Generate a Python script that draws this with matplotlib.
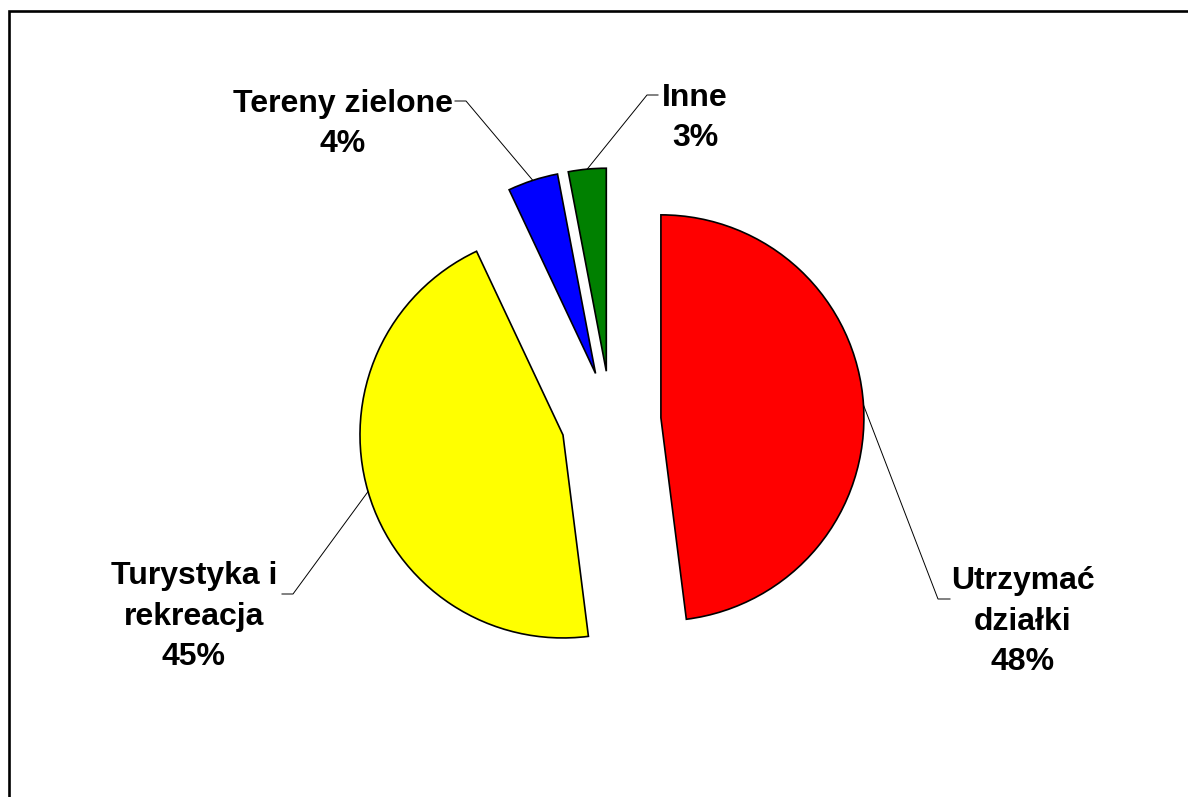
import numpy as np
import matplotlib
matplotlib.use("Agg")
import matplotlib.pyplot as plt
from matplotlib.lines import Line2D

# ---- data ----
categories = ["Utrzymać\ndziałki", "Turystyka i\nrekreacja", "Tereny zielone", "Inne"]
values = [48, 45, 4, 3]
colors = ["#FF0000", "#FFFF00", "#0000FF", "#008000"]

# ---- layout (pixel coordinates, y measured from top) ----
W, H = 1188, 797
center_px = (611, 421)
radius_px = 203
explode_px = 50
label_pos = [(1023, 670), (194, 665), (343, 152), (695, 146)]   # last-line baseline
elbow_pos = [(938, 599), (293, 594), (466, 101), (647, 95)]
end_pos = [(950, 599), (282, 594), (455, 101), (658, 95)]

plt.rcParams['font.family'] = ['Liberation Sans', 'DejaVu Sans']

fig = plt.figure(figsize=(W / 100, H / 100), dpi=100)
ax = fig.add_axes([0, 0, 1, 1])

def Y(y):
    return H - y

wedges, _ = ax.pie(values, colors=colors, startangle=90, counterclock=False,
                   explode=[explode_px] * len(values),
                   center=(center_px[0], Y(center_px[1])), radius=radius_px,
                   wedgeprops=dict(edgecolor='black', linewidth=1.2),
                   frame=True)
ax.set_xlim(0, W)
ax.set_ylim(0, H)
ax.set_aspect('equal')
ax.axis('off')

total = sum(values)
for i, w in enumerate(wedges):
    tmid = np.deg2rad((w.theta1 + w.theta2) / 2)
    cx, cy = w.center
    px = cx + w.r * np.cos(tmid)
    py = cy + w.r * np.sin(tmid)
    ex, ey = elbow_pos[i]
    fx, fy = end_pos[i]
    ax.add_line(Line2D([px, ex, fx], [py, Y(ey), Y(fy)], color='black', lw=0.7))
    lx, ly = label_pos[i]
    ax.text(lx, Y(ly), f"{categories[i]}\n{round(values[i] / total * 100)}%",
            ha='center', va='baseline', multialignment='center',
            fontsize=23, fontweight='bold', linespacing=1.45, color='black')

# chart-area border (left and top visible)
ax.add_line(Line2D([8.7, 8.7, W + 5], [-5, Y(11.3), Y(11.3)], color='black', lw=1.9,
                   solid_joinstyle='miter'))

fig.savefig("out.png", dpi=100, facecolor='white')
